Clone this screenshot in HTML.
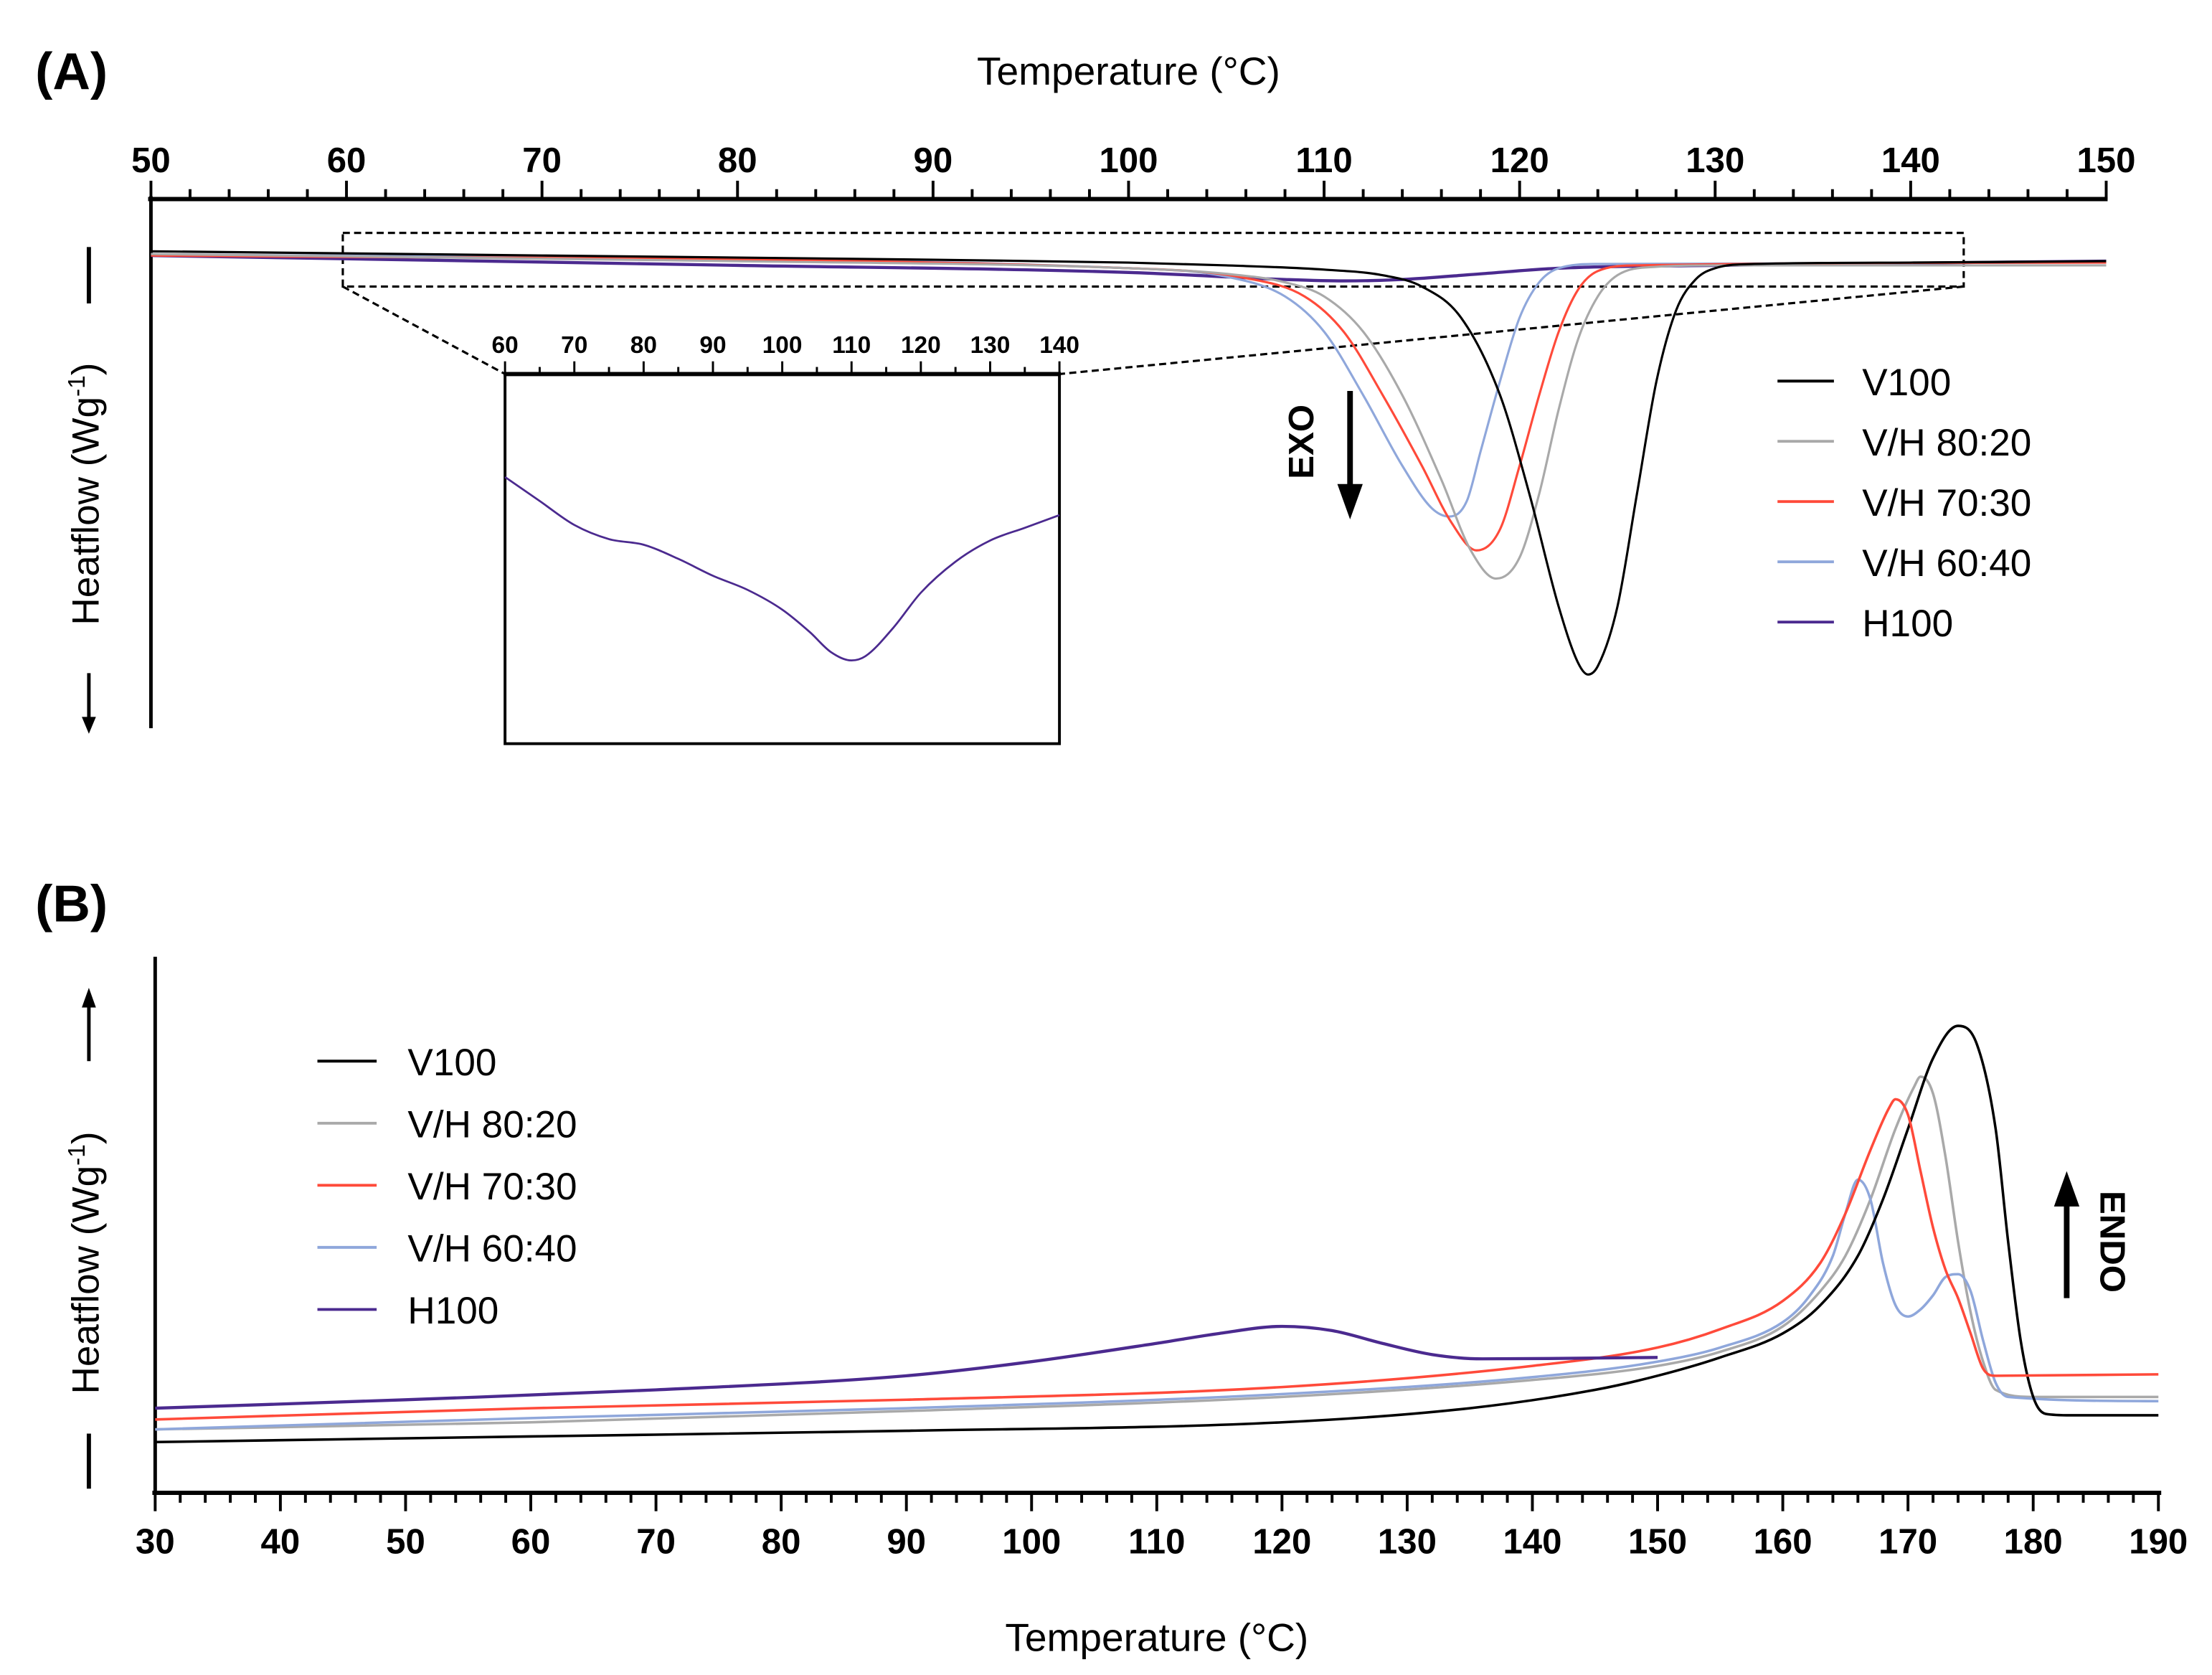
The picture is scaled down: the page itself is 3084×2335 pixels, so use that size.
<!DOCTYPE html>
<html><head><meta charset="utf-8">
<style>
html,body{margin:0;padding:0;background:#fff;}
svg{display:block;font-family:"Liberation Sans",Arial,sans-serif;}
</style></head>
<body>
<svg id="fig" width="3084" height="2335" viewBox="0 0 1568 1187" xmlns="http://www.w3.org/2000/svg">
<rect width="1568" height="1187" fill="#fff"/>
<g id="pA"></g>
<g id="pB"></g>
</svg>
<script>
// ---------- Panel A data (cooling, temperature °C vs heat flow, arbitrary units) ----------
const aV100T = [50,70,90,100,105,110,113,115,117,119,120.5,122,123,123.5,124,125,126,127,128,129,130,132,140,150];
const aV100Y = [0,-0.03,-0.06,-0.08,-0.1,-0.13,-0.17,-0.25,-0.47,-1.02,-1.72,-2.52,-2.92,-3.0,-2.94,-2.52,-1.72,-0.92,-0.42,-0.2,-0.12,-0.09,-0.08,-0.07];
const a8020T = [50,80,100,105,108,110,112,114,116,117.5,118.8,120,121,122,123,124,125,127,130,150];
const a8020Y = [-0.02,-0.07,-0.12,-0.16,-0.22,-0.32,-0.57,-1.02,-1.62,-2.12,-2.32,-2.17,-1.72,-1.12,-0.62,-0.32,-0.17,-0.11,-0.1,-0.1];
const a7030T = [50,100,106,109,111,113,115,116.5,117.8,119,120,121,122,123,124,126,150];
const a7030Y = [-0.03,-0.12,-0.19,-0.32,-0.57,-1.02,-1.52,-1.92,-2.12,-1.97,-1.52,-1.02,-0.57,-0.27,-0.14,-0.1,-0.08];
const a6040T = [50,100,105,108,110,112,114,115.5,116.4,117.3,118,119,120,121,122,124,150];
const a6040Y = [-0.02,-0.12,-0.18,-0.32,-0.57,-1.02,-1.52,-1.82,-1.88,-1.77,-1.42,-0.92,-0.47,-0.22,-0.12,-0.09,-0.08];
const aH100T = [50,80,100,108,111,114,118,122,130,150];
const aH100Y = [-0.03,-0.1,-0.15,-0.2,-0.21,-0.2,-0.16,-0.12,-0.1,-0.07];
// inset (H100 zoom)
const insT = [60,65,70,75,80,85,90,95,100,104,107,110,112,116,120,125,130,135,140];
const insY = [0,-0.17,-0.34,-0.44,-0.48,-0.58,-0.7,-0.8,-0.94,-1.1,-1.24,-1.3,-1.27,-1.07,-0.82,-0.6,-0.45,-0.36,-0.27];
const aTicks = [50,60,70,80,90,100,110,120,130,140,150];
const insTicks = [60,70,80,90,100,110,120,130,140];

// ---------- Panel B data (heating) ----------
const bV100T = [30,60,90,120,135,145,150,155,160,163,166,168,170,172,174,175.5,177,178,179,180,181,183,190];
const bV100Y = [0.18,0.22,0.26,0.32,0.42,0.55,0.65,0.78,0.95,1.15,1.5,1.9,2.4,2.9,3.13,3.0,2.4,1.6,0.9,0.5,0.38,0.37,0.37];
const b8020T = [30,60,90,120,140,150,155,160,163,165,167,169,170.5,171,172,173,174,175,176,177,180,190];
const b8020Y = [0.27,0.32,0.4,0.5,0.62,0.72,0.82,1.0,1.25,1.5,1.9,2.4,2.7,2.77,2.65,2.2,1.6,1.1,0.75,0.55,0.5,0.5];
const b7030T = [30,60,90,120,140,150,155,160,163,165,167,168.5,169,170,171,172,173,174,175,176,177,190];
const b7030Y = [0.34,0.42,0.48,0.57,0.72,0.85,0.98,1.18,1.45,1.8,2.25,2.55,2.61,2.5,2.1,1.7,1.4,1.2,0.95,0.7,0.65,0.66];
const b6040T = [30,60,90,120,140,150,155,160,162,164,165,166,167,168,169,170,171,172,173,174,175,176,177,178,190];
const b6040Y = [0.27,0.35,0.42,0.52,0.64,0.75,0.85,1.03,1.2,1.5,1.8,2.04,1.9,1.45,1.15,1.07,1.12,1.22,1.35,1.37,1.25,0.9,0.6,0.5,0.47];
const bH100T = [30,50,70,90,100,110,115,120,124,128,132,136,150];
const bH100Y = [0.42,0.48,0.55,0.65,0.75,0.88,0.95,1.0,0.97,0.88,0.8,0.77,0.78];
const bTicks = [30,40,50,60,70,80,90,100,110,120,130,140,150,160,170,180,190];

const legendNames = ["V100","V/H 80:20","V/H 70:30","V/H 60:40","H100"];
const colors = ["#000000","#a9a9a9","#ff4a3a","#8fa7db","#4b2a8f"];

const NS="http://www.w3.org/2000/svg";
function mk(parent,tag,attrs,text){const e=document.createElementNS(NS,tag);for(const k in attrs)e.setAttribute(k,attrs[k]);if(text!==undefined)e.textContent=text;parent.appendChild(e);return e;}

// monotone cubic interpolation path
function monoPath(T,Y,sx,sy){
  const n=T.length,d=[],m=[];
  for(let i=0;i<n-1;i++)d.push((Y[i+1]-Y[i])/(T[i+1]-T[i]));
  m[0]=d[0];m[n-1]=d[n-2];
  for(let i=1;i<n-1;i++){m[i]=(d[i-1]*d[i]<=0)?0:(d[i-1]+d[i])/2;}
  for(let i=0;i<n-1;i++){if(d[i]===0){m[i]=0;m[i+1]=0;continue;}const a=m[i]/d[i],b=m[i+1]/d[i],s=a*a+b*b;if(s>9){const t=3/Math.sqrt(s);m[i]=t*a*d[i];m[i+1]=t*b*d[i];}}
  let p="M"+sx(T[0]).toFixed(2)+","+sy(Y[0]).toFixed(2);
  for(let i=0;i<n-1;i++){const h=T[i+1]-T[i];
    p+=" C"+sx(T[i]+h/3).toFixed(2)+","+sy(Y[i]+m[i]*h/3).toFixed(2)+" "+sx(T[i+1]-h/3).toFixed(2)+","+sy(Y[i+1]-m[i+1]*h/3).toFixed(2)+" "+sx(T[i+1]).toFixed(2)+","+sy(Y[i+1]).toFixed(2);}
  return p;
}

// ================= PANEL A =================
const A=document.getElementById('pA');
const axA=t=>107+(t-50)*(1493-107)/100;
const ayA=v=>178-v*100;
let e;
e=mk(A,'text',{x:25,y:63,'font-size':37,'font-weight':'bold'},'(A)');

e=mk(A,'text',{x:800,y:60,'font-size':28,'text-anchor':'middle'},'Temperature (°C)');

e=mk(A,'line',{x1:105,y1:141,x2:1494,y2:141,stroke:'#000','stroke-width':3});

e=mk(A,'line',{x1:107,y1:139,x2:107,y2:516,stroke:'#000','stroke-width':2.5});

for(let t=50;t<=150;t+=2){const maj=(t%10===0);
  e=mk(A,'line',{x1:axA(t),y1:141,x2:axA(t),y2:maj?128:134,stroke:'#000','stroke-width':2});
  }
aTicks.forEach(t=>{e=mk(A,'text',{x:axA(t),y:122,'font-size':25,'font-weight':'bold','text-anchor':'middle'},String(t));
  });
// zoom box
e=mk(A,'rect',{x:243,y:165,width:1149,height:38,fill:'none',stroke:'#000','stroke-width':1.6,'stroke-dasharray':'5,3'});

e=mk(A,'line',{x1:243,y1:203,x2:358,y2:265,stroke:'#000','stroke-width':1.6,'stroke-dasharray':'5,3'});

e=mk(A,'line',{x1:1392,y1:203,x2:751,y2:265,stroke:'#000','stroke-width':1.6,'stroke-dasharray':'5,3'});

// series A
const aSeries=[[aV100T,aV100Y],[a8020T,a8020Y],[a7030T,a7030Y],[a6040T,a6040Y],[aH100T,aH100Y]];
const aOrder=[4,3,2,1,0];
aOrder.forEach(i=>{e=mk(A,'path',{d:monoPath(aSeries[i][0],aSeries[i][1],axA,ayA),fill:'none',stroke:colors[i],'stroke-width':i===4?2.2:1.6});
  });
// inset
const ixs=t=>358+(t-60)*(751-358)/80;
const iys=v=>338-v*100;
e=mk(A,'rect',{x:358,y:265,width:393,height:262,fill:'#fff',stroke:'#000','stroke-width':2});

e=mk(A,'line',{x1:357,y1:265,x2:752,y2:265,stroke:'#000','stroke-width':3});

for(let t=60;t<=140;t+=5){const maj=(t%10===0);
  e=mk(A,'line',{x1:ixs(t),y1:265,x2:ixs(t),y2:maj?256:260,stroke:'#000','stroke-width':1.5});
  }
insTicks.forEach(t=>{e=mk(A,'text',{x:ixs(t),y:250,'font-size':17,'font-weight':'bold','text-anchor':'middle'},String(t));
  });
e=mk(A,'path',{d:monoPath(insT,insY,ixs,iys),fill:'none',stroke:colors[4],'stroke-width':1.4});

// legend A
legendNames.forEach((nm,i)=>{const y=270+i*42.7;
  e=mk(A,'line',{x1:1260,y1:y,x2:1300,y2:y,stroke:colors[i],'stroke-width':2});
  
  e=mk(A,'text',{x:1320,y:y+10,'font-size':27},nm);
  });
// EXO arrow
e=mk(A,'text',{x:0,y:0,'font-size':25,'font-weight':'bold','text-anchor':'middle',transform:'translate(931,313) rotate(-90)'},'EXO');

e=mk(A,'line',{x1:957,y1:277,x2:957,y2:345,stroke:'#000','stroke-width':4});

e=mk(A,'polygon',{points:'948,343 966,343 957,368',fill:'#000'});

// Y label A
e=mk(A,'text',{x:0,y:0,'font-size':27,'text-anchor':'middle',transform:'translate(70,350) rotate(-90)'});
e.innerHTML='Heatflow (Wg<tspan dy="-10" font-size="17">-1</tspan><tspan dy="10">)</tspan>';

e=mk(A,'line',{x1:63,y1:175,x2:63,y2:215,stroke:'#000','stroke-width':3});

e=mk(A,'line',{x1:63,y1:477,x2:63,y2:512,stroke:'#000','stroke-width':2.5});

e=mk(A,'polygon',{points:'58,508 68,508 63,520',fill:'#000'});


// ================= PANEL B =================
const B=document.getElementById('pB');
const bxs=t=>110+(t-30)*(1530-110)/160;
const bys=v=>1040-v*100;
e=mk(B,'text',{x:25,y:653,'font-size':37,'font-weight':'bold'},'(B)');

e=mk(B,'text',{x:820,y:1170,'font-size':28,'text-anchor':'middle'},'Temperature (°C)');

e=mk(B,'line',{x1:110,y1:678,x2:110,y2:1059,stroke:'#000','stroke-width':2.5});

e=mk(B,'line',{x1:108,y1:1058,x2:1532,y2:1058,stroke:'#000','stroke-width':3});

for(let t=30;t<=190;t+=2){const maj=(t%10===0);
  e=mk(B,'line',{x1:bxs(t),y1:1058,x2:bxs(t),y2:maj?1071:1065,stroke:'#000','stroke-width':2});
  }
bTicks.forEach(t=>{e=mk(B,'text',{x:bxs(t),y:1101,'font-size':25,'font-weight':'bold','text-anchor':'middle'},String(t));
  });
const bSeries=[[bV100T,bV100Y],[b8020T,b8020Y],[b7030T,b7030Y],[b6040T,b6040Y],[bH100T,bH100Y]];
[1,3,0,2,4].forEach(i=>{e=mk(B,'path',{d:monoPath(bSeries[i][0],bSeries[i][1],bxs,bys),fill:'none',stroke:colors[i],'stroke-width':i===4?2.2:1.8});
  });
legendNames.forEach((nm,i)=>{const y=752+i*44;
  e=mk(B,'line',{x1:225,y1:y,x2:267,y2:y,stroke:colors[i],'stroke-width':2});
  
  e=mk(B,'text',{x:289,y:y+10,'font-size':27},nm);
  });
e=mk(B,'text',{x:0,y:0,'font-size':25,'font-weight':'bold','text-anchor':'middle',transform:'translate(1489,880) rotate(90)'},'ENDO');

e=mk(B,'line',{x1:1465,y1:920,x2:1465,y2:852,stroke:'#000','stroke-width':4});

e=mk(B,'polygon',{points:'1456,855 1474,855 1465,830',fill:'#000'});

e=mk(B,'text',{x:0,y:0,'font-size':27,'text-anchor':'middle',transform:'translate(70,895) rotate(-90)'});
e.innerHTML='Heatflow (Wg<tspan dy="-10" font-size="17">-1</tspan><tspan dy="10">)</tspan>';

e=mk(B,'line',{x1:63,y1:712,x2:63,y2:752,stroke:'#000','stroke-width':2.5});

e=mk(B,'polygon',{points:'58,714 68,714 63,700',fill:'#000'});

e=mk(B,'line',{x1:63,y1:1016,x2:63,y2:1055,stroke:'#000','stroke-width':3});

</script>
</body></html>
